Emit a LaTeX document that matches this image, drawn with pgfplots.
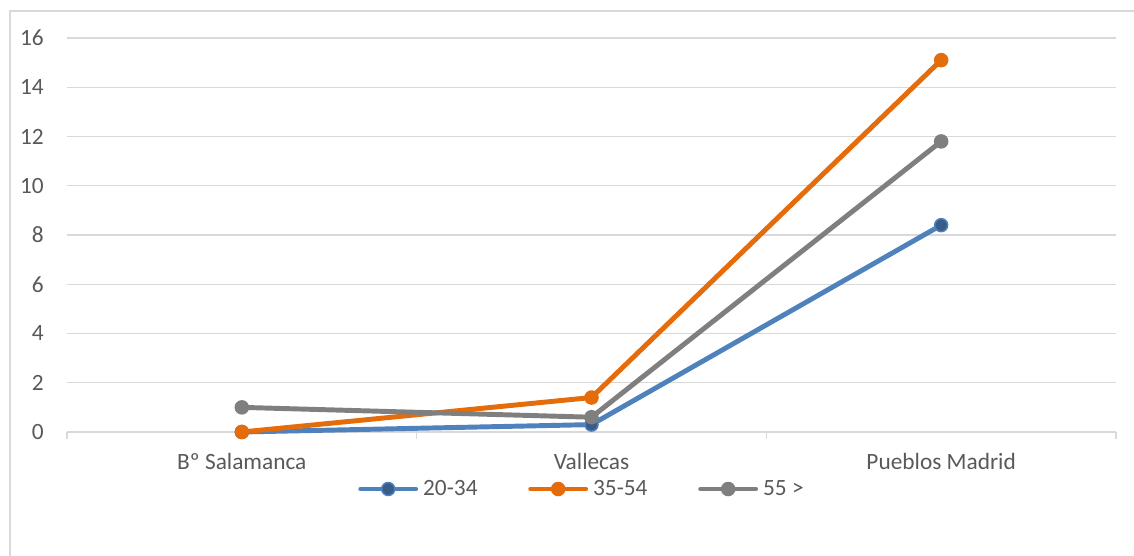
\documentclass[border=0pt]{standalone}
\usepackage{pgfplots}
\pgfplotsset{compat=1.18}
\usepackage{fontspec}
\setmainfont{Carlito}
\definecolor{serA}{HTML}{4F81BD}
\definecolor{serAfill}{HTML}{385D8A}
\definecolor{serB}{HTML}{E46C0A}
\definecolor{serC}{HTML}{7F7F7F}
\definecolor{gridc}{HTML}{D9D9D9}
\definecolor{txt}{HTML}{595959}
\begin{document}
\begin{tikzpicture}
\useasboundingbox (0,0) rectangle (850.5pt,417pt);
\draw[gridc, line width=0.9pt] (7.5pt,0) -- (7.5pt,408.75pt) -- (850.5pt,408.75pt);
\begin{axis}[
  at={(50.25pt,93pt)}, anchor=south west,
  scale only axis, width=786.75pt, height=295.5pt,
  xmin=-0.5, xmax=2.5, ymin=0, ymax=16,
  xtick={0,1,2},
  xticklabels={Bº Salamanca, Vallecas, Pueblos Madrid},
  minor xtick={-0.5,0.5,1.5,2.5},
  ytick={0,2,...,16},
  /pgf/number format/assume math mode=true,
  ymajorgrids,
  grid style={gridc, line width=1.1pt},
  axis line style={draw=none},
  xtick pos=bottom, ytick pos=left,
  tick align=outside,
  major tick length=0pt, minor tick length=5.25pt,
  minor tick style={gridc, line width=1.1pt},
  every tick label/.append style={font=\fontsize{17.5}{21}\selectfont, text=txt},
  yticklabel style={anchor=east, inner sep=0pt, xshift=-17.25pt},
  xticklabel style={anchor=north, inner sep=0pt, yshift=-15.75pt},
  clip=false,
  legend columns=3,
  legend style={at={(0.2774,-0.1447)}, anchor=west, draw=none, fill=none,
    inner sep=0pt, nodes={inner sep=0pt},
    font=\fontsize{17.5}{21}\selectfont, text=txt,
    /tikz/every odd column/.append style={column sep=3.75pt},
    /tikz/every even column/.append style={column sep=38pt}},
  legend image code/.code={\draw[mark repeat=2,mark phase=2,#1] plot coordinates {(0pt,0pt) (20.6pt,0pt) (41.2pt,0pt)};},
  every axis plot/.append style={line width=3.7pt, line cap=round, line join=round, mark=*, mark size=4.9pt}
]
% 20-34
\addplot[serA, mark options={fill=serAfill, draw=serA, line width=1.1pt}] coordinates {(0,0) (1,0.3) (2,8.4)};
\addlegendentry{20-34}
% 35-54
\addplot[serB, mark options={fill=serB, draw=serB, line width=1.1pt}] coordinates {(0,0) (1,1.4) (2,15.1)};
\addlegendentry{35-54}
% 55 >
\addplot[serC, mark options={fill=serC, draw=serC, line width=1.1pt}] coordinates {(0,1.0) (1,0.6) (2,11.8)};
\addlegendentry{55 >}
\end{axis}
\end{tikzpicture}
\end{document}
